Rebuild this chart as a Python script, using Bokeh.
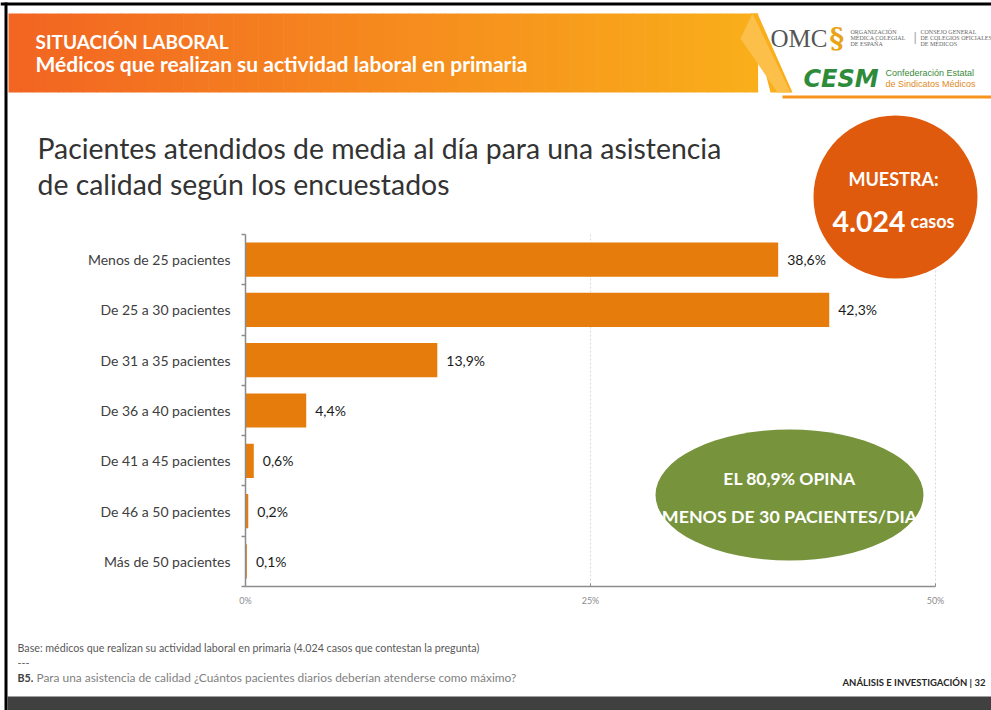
import numpy as np
from bokeh.plotting import figure
from bokeh.models import Range1d, LinearAxis, FixedTicker
from bokeh.embed import file_html
from bokeh.resources import INLINE
from bokeh.core.properties import value

# ---------------- data ----------------
categories = ["Menos de 25 pacientes", "De 25 a 30 pacientes", "De 31 a 35 pacientes",
              "De 36 a 40 pacientes", "De 41 a 45 pacientes", "De 46 a 50 pacientes",
              "Más de 50 pacientes"]
values = [38.6, 42.3, 13.9, 4.4, 0.6, 0.2, 0.1]
x_ticks = [0, 25, 50]
x_tick_labels = ["0%", "25%", "50%"]
sample_size = "4.024"
highlight = ["EL 80,9% OPINA", "MENOS DE 30 PACIENTES/DIA"]

value_labels = [f"{v:.1f}".replace(".", ",") + "%" for v in values]
ncat = len(categories)
cat_pos = [i + 0.5 for i in range(ncat)]

# ---------------- layout geometry (pixels) ----------------
W, H = 991, 710
PX0, PX_PER = 245.0, 13.8          # pixel of 0 %, pixels per %
CAT_TOP, CAT_H = 234.0, 352.0 / 7  # pixel of first category top, pixels per category
FONT = "Lato"

x_range = Range1d(-PX0 / PX_PER, (W - PX0) / PX_PER)
y_range = Range1d((H - CAT_TOP) / CAT_H, -CAT_TOP / CAT_H)   # flipped: category 0 at top

p = figure(width=W, height=H, output_backend="svg", toolbar_location=None,
           x_range=x_range, y_range=y_range, min_border=0, min_border_left=0,
           min_border_right=0, min_border_top=0, min_border_bottom=0,
           x_axis_location=None, y_axis_location=None, outline_line_color=None,
           background_fill_color="white", border_fill_color="white")
p.center = []
p.extra_x_ranges = {"px": Range1d(0, W)}
p.extra_y_ranges = {"px": Range1d(H, 0)}
PX = dict(x_range_name="px", y_range_name="px")

def txt(x, y, s, size, color="#333333", style="normal", align="left",
        baseline="middle", font=FONT):
    p.text(x=[x], y=[y], text=[s], text_font=value(font), text_font_size=size,
           text_color=color, text_font_style=style, text_align=align,
           text_baseline=baseline, **PX)

# ---------------- slide frame & header ----------------
p.quad(left=[0], right=[W], top=[2], bottom=[5], fill_color="black", line_color=None, **PX)
p.quad(left=[4], right=[7], top=[2], bottom=[H], fill_color="black", line_color=None, **PX)

c0 = np.array([242, 101, 34])
c1 = np.array([249, 174, 26])
n = 60
x0h, x1h = 8, 757
lefts = [x0h + (x1h - x0h) * i / n for i in range(n)]
rights = [x0h + (x1h - x0h) * (i + 1) / n + 0.6 for i in range(n)]
cols = ["#%02x%02x%02x" % tuple(int(round(v)) for v in (c0 + (c1 - c0) * i / (n - 1)))
        for i in range(n)]
p.quad(left=lefts, right=rights, top=13, bottom=92, fill_color=cols, line_color=None, **PX)
p.patch([750, 757, 792, 770], [13, 13, 92, 92], fill_color="#f9ae1a", line_color=None, **PX)
p.patch([740, 752, 790, 777], [38, 13, 92, 92], fill_color="#fbbf4a", line_color=None, **PX)
p.quad(left=[782], right=[W], top=[95], bottom=[98], fill_color="#f7941d", line_color=None, **PX)

txt(35, 41, "SITUACIÓN LABORAL", "19px", "white", "bold")
txt(35, 63, "Médicos que realizan su actividad laboral en primaria", "21px", "white", "bold")

# logos (text approximations)
txt(770, 38, "OMC", "25px", "#555555", font="Liberation Serif")
txt(829, 38, "§", "28px", "#e8a317", "bold", font="DejaVu Serif")
for k, t in enumerate(["ORGANIZACIÓN", "MÉDICA COLEGIAL", "DE ESPAÑA"]):
    txt(850, 31 + k * 6, t, "6px", "#666666", font="Liberation Serif")
txt(913, 36, "|", "13px", "#aaaaaa", font="Liberation Sans")
for k, t in enumerate(["CONSEJO GENERAL", "DE COLEGIOS OFICIALES", "DE MÉDICOS"]):
    txt(920, 31 + k * 6, t, "6px", "#666666", font="Liberation Serif")
txt(803, 78, "CESM", "24px", "#2e8b3a", "bold italic", font="DejaVu Sans")
txt(885, 72, "Confederación Estatal", "9px", "#3a8a3a", font="Liberation Sans")
txt(885, 83, "de Sindicatos Médicos", "9px", "#e08a1e", font="Liberation Sans")

# title
txt(37, 147, "Pacientes atendidos de media al día para una asistencia", "28.4px", "#333333")
txt(37, 183, "de calidad según los encuestados", "28.4px", "#333333")

# ---------------- chart ----------------
p.segment(x0=x_ticks[1:], x1=x_ticks[1:], y0=0, y1=ncat, line_color="#d9d9d9",
          line_dash="2 2", line_width=1)
p.hbar(y=cat_pos, left=0, right=values, height=0.68, fill_color="#e57c0b", line_color=None)
p.text(x=values, y=cat_pos, text=value_labels, x_offset=9, text_baseline="middle",
       text_font=value(FONT), text_font_size="14px", text_color="#1a1a1a")

xaxis = LinearAxis(fixed_location=ncat, bounds=(x_ticks[0], x_ticks[-1]),
                   ticker=FixedTicker(ticks=x_ticks, minor_ticks=[]),
                   major_label_overrides={t: l for t, l in zip(x_ticks, x_tick_labels)},
                   axis_line_color="#8c8c8c", axis_line_width=1.5,
                   major_tick_in=3, major_tick_out=0, major_tick_line_color="#8c8c8c",
                   minor_tick_line_color=None, major_label_text_font_size="9px",
                   major_label_text_color="#8c8c8c", major_label_text_font=FONT,
                   major_label_standoff=8)
p.add_layout(xaxis, "below")

yaxis = LinearAxis(fixed_location=0, bounds=(0, ncat),
                   ticker=FixedTicker(ticks=cat_pos, minor_ticks=list(range(ncat + 1))),
                   major_label_overrides={c: l for c, l in zip(cat_pos, categories)},
                   axis_line_color="#8c8c8c", axis_line_width=1.5,
                   major_tick_in=0, major_tick_out=0, major_tick_line_color=None,
                   minor_tick_in=0, minor_tick_out=4, minor_tick_line_color="#8c8c8c",
                   minor_tick_line_width=1.5,
                   major_label_text_font_size="14px", major_label_text_color="#404040",
                   major_label_text_font=FONT, major_label_standoff=11)
p.add_layout(yaxis, "left")

# sample circle
p.ellipse(x=[895], y=[196.5], width=164, height=163, fill_color="#e05a0e", line_color=None, **PX)
txt(893, 178, "MUESTRA:", "18px", "white", "bold", align="center")
txt(905, 221, sample_size, "28.5px", "white", "bold", align="right", baseline="alphabetic")
txt(910, 220, "casos", "18px", "white", "bold", baseline="alphabetic")

# green ellipse
p.ellipse(x=[789], y=[494.5], width=268, height=131, fill_color="#77933c", line_color=None, **PX)
txt(789, 478, highlight[0], "17.5px", "white", "bold", align="center")
txt(789, 515, highlight[1], "17.8px", "white", "bold", align="center")

# footer
txt(17, 647, "Base: médicos que realizan su actividad laboral en primaria (4.024 casos que contestan la pregunta)",
    "10.7px", "#595959")
txt(17, 662, "---", "10.7px", "#595959")
txt(17, 677, "B5.", "10.7px", "#404040", "bold")
txt(36, 677, "Para una asistencia de calidad ¿Cuántos pacientes diarios deberían atenderse como máximo?",
    "11.9px", "#7f7f7f")
txt(842, 682, "ANÁLISIS E INVESTIGACIÓN | 32", "9.5px", "#262626", "bold")
p.quad(left=[7], right=[W], top=[696], bottom=[H], fill_color="#404040", line_color=None, **PX)

open("out.html", "w").write(file_html(p, INLINE))
